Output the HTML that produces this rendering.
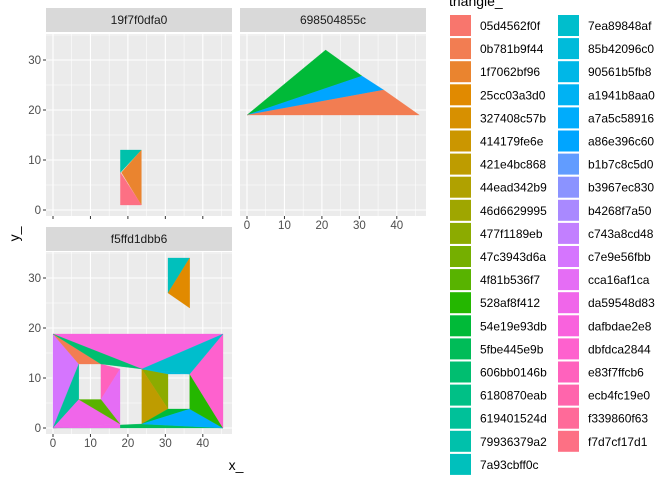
<!DOCTYPE html>
<html><head><meta charset="utf-8"><style>
html,body{margin:0;padding:0;background:#fff;}
svg text{font-family:"Liberation Sans","DejaVu Sans",sans-serif;}
</style></head><body>
<svg id="chart" width="672" height="480" viewBox="0 0 672 480" xmlns="http://www.w3.org/2000/svg"></svg>
<script>
// ---- data ----
const levels = ["05d4562f0f","0b781b9f44","1f7062bf96","25cc03a3d0","327408c57b","414179fe6e","421e4bc868","44ead342b9","46d6629995","477f1189eb","47c3943d6a","4f81b536f7","528af8f412","54e19e93db","5fbe445e9b","606bb0146b","6180870eab","619401524d","79936379a2","7a93cbff0c","7ea89848af","85b42096c0","90561b5fb8","a1941b8aa0","a7a5c58916","a86e396c60","b1b7c8c5d0","b3967ec830","b4268f7a50","c743a8cd48","c7e9e56fbb","cca16af1ca","da59548d83","dafbdae2e8","dbfdca2844","e83f7ffcb6","ecb4fc19e0","f339860f63","f7d7cf17d1"];
const facets = ["19f7f0dfa0","698504855c","f5ffd1dbb6"];
const xTicks = [0,10,20,30,40];
const yTicks = [0,10,20,30];
// triangles: facet, level index, vertices (x,y)
const triFacet = [1,1,1, 0,0,0, 2,2, 2,2,2,2,2,2,2,2,2,2,2,2,2,2,2,2,2,2,2];
const triLevel = [13,25,1, 18,2,38, 19,3, 33,30,17,1,35,31,32,11,14,9,6,13,24,12,34,20,21,15,32];
const triX = [
 [0,21,30.7],[0,30.7,36.5],[0,36.5,46],
 [18,23.6,18],[23.6,23.6,18.3],[18,18,23.6],
 [30.7,36.5,30.7],[36.5,36.5,30.7],
 [0,45.4,23.7],[0,6.9,0],[6.9,6.9,0],[0,6.9,12.8],[12.8,17.9,12.8],[12.8,17.9,17.9],[0,6.9,17.9],[6.9,12.8,17.9],[0,23.7,45.4],[23.7,30.7,30.7],[23.7,30.7,23.7],[23.7,30.7,36.5],[23.7,36.5,45.4],[36.5,36.5,45.4],[36.5,45.4,45.4],[23.7,45.4,36.5],[23.7,36.5,30.7],[0,12.8,23.7],[0,17.9,17.9]
];
const triY = [
 [19,32,26.8],[19,26.8,24],[19,24,19],
 [12,12,7.5],[12,1,7.5],[7.5,1,1],
 [34,34,27],[34,24,27],
 [18.8,18.8,11.8],[18.8,12.8,0],[12.8,5.7,0],[18.8,12.8,12.8],[12.8,11.8,5.7],[5.7,11.8,0.8],[0,5.7,0.8],[5.7,5.7,0.8],[0,0.8,0],[11.8,10.8,3.8],[11.8,3.8,0.8],[0.8,3.8,3.8],[0.8,3.8,0],[10.8,3.8,0],[10.8,18.8,0],[11.8,18.8,10.8],[11.8,10.8,10.8],[18.8,12.8,11.8],[0,0.8,0]
];
// ---- colour (ggplot hue_pal) ----
function hcl(h,c,l){
  const hr=h*Math.PI/180, L=l, U=c*Math.cos(hr), V=c*Math.sin(hr);
  const Xn=95.047,Yn=100,Zn=108.883;
  const un=4*Xn/(Xn+15*Yn+3*Zn), vn=9*Yn/(Xn+15*Yn+3*Zn);
  const Y = L>8 ? Yn*Math.pow((L+16)/116,3) : Yn*L/903.3;
  const u=U/(13*L)+un, v=V/(13*L)+vn;
  const X=9*Y*u/(4*v), Z=-X/3-5*Y+3*Y/v;
  let r= 3.240479*X-1.537150*Y-0.498535*Z, g=-0.969256*X+1.875992*Y+0.041556*Z, b=0.055648*X-0.204043*Y+1.057311*Z;
  const f=t=>{t/=100; t=t>0.0031308?1.055*Math.pow(t,1/2.4)-0.055:12.92*t; return Math.round(Math.max(0,Math.min(1,t))*255);};
  return `rgb(${f(r)},${f(g)},${f(b)})`;
}
const n=levels.length;
const colors=levels.map((_,i)=>hcl(15+i*360/n,100,65));
// ---- layout ----
const svg=document.getElementById('chart');
const NS='http://www.w3.org/2000/svg';
function mk(tag,attrs,parent){const e=document.createElementNS(NS,tag);for(const k in attrs)e.setAttribute(k,attrs[k]);(parent||svg).appendChild(e);return e;}
const panels=[{l:46,r:232,t:34,b:216,st:8},{l:240,r:426,t:34,b:216,st:8},{l:46,r:232,t:252,b:434,st:227}];
const sx=3.745, sy=5;
function X(p,v){return panels[p].l+7+v*sx;}
function Y(p,v){return panels[p].b-6-v*sy;}
panels.forEach((p,i)=>{
  const g=mk('g',{});
  
  
  const s=mk('rect',{x:p.l,y:p.st,width:p.r-p.l,height:24,fill:'#D9D9D9'},g);
  
  
  const st=mk('text',{x:(p.l+p.r)/2,y:p.st+16,'text-anchor':'middle','font-size':'12',fill:'#1A1A1A'},g);
  st.textContent=facets[i];
  
  
  mk('rect',{x:p.l,y:p.t,width:p.r-p.l,height:p.b-p.t,fill:'#EBEBEB'},g);
  [5,15,25,35,45].forEach(v=>mk('line',{x1:X(i,v),x2:X(i,v),y1:p.t,y2:p.b,stroke:'#fff','stroke-width':0.55},g));
  [5,15,25,35].forEach(v=>{const yy=Y(i,v);if(yy>p.t)mk('line',{x1:p.l,x2:p.r,y1:yy,y2:yy,stroke:'#fff','stroke-width':0.55},g);});
  xTicks.forEach(v=>mk('line',{x1:X(i,v),x2:X(i,v),y1:p.t,y2:p.b,stroke:'#fff','stroke-width':1.1},g));
  yTicks.forEach(v=>mk('line',{x1:p.l,x2:p.r,y1:Y(i,v),y2:Y(i,v),stroke:'#fff','stroke-width':1.1},g));
  if(i!==1){
    yTicks.forEach(v=>{
      mk('line',{x1:p.l-3,x2:p.l,y1:Y(i,v),y2:Y(i,v),stroke:'#333','stroke-width':1},g);
      const t=mk('text',{x:p.l-5,y:Y(i,v)+4,'text-anchor':'end','font-size':'11.5',fill:'#4D4D4D'},g);
      t.textContent=v;
      
      
    });
  }
  if(i!==0){
    xTicks.forEach(v=>{
      mk('line',{x1:X(i,v),x2:X(i,v),y1:p.b,y2:p.b+3,stroke:'#333','stroke-width':1},g);
      const t=mk('text',{x:X(i,v),y:p.b+13,'text-anchor':'middle','font-size':'11.5',fill:'#4D4D4D'},g);
      t.textContent=v;
      
      
    });
  } else {
    xTicks.forEach(v=>mk('line',{x1:X(i,v),x2:X(i,v),y1:p.b,y2:p.b+3,stroke:'#333','stroke-width':1},g));
  }
});
// triangles
triFacet.forEach((f,k)=>{
  const pts=triX[k].map((xv,j)=>X(f,xv).toFixed(1)+','+Y(f,triY[k][j]).toFixed(1)).join(' ');
  const poly=mk('polygon',{points:pts,fill:colors[triLevel[k]],stroke:colors[triLevel[k]],'stroke-width':0.3});
  
  
});
// axis titles
const xt=mk('text',{x:236,y:470,'text-anchor':'middle','font-size':'14',fill:'#000'});
xt.textContent='x_';


const yt=mk('text',{x:0,y:0,'text-anchor':'middle','font-size':'14',fill:'#000',transform:'translate(19,234) rotate(-90)'});
yt.textContent='y_';


// legend
const lt=mk('text',{x:449,y:6,'font-size':'14',fill:'#000'});
lt.textContent='triangle_';


levels.forEach((lv,i)=>{
  const col=i<20?0:1, row=i<20?i:i-20;
  const kx=col?558:450, ky=15+row*23.1;
  const g=mk('g',{});
  
  
  mk('rect',{x:kx,y:ky,width:21,height:21,fill:colors[i]},g);
  const t=mk('text',{x:kx+30,y:ky+15,'font-size':'12',fill:'#000'},g);
  t.textContent=lv;
});
</script>
</body></html>
